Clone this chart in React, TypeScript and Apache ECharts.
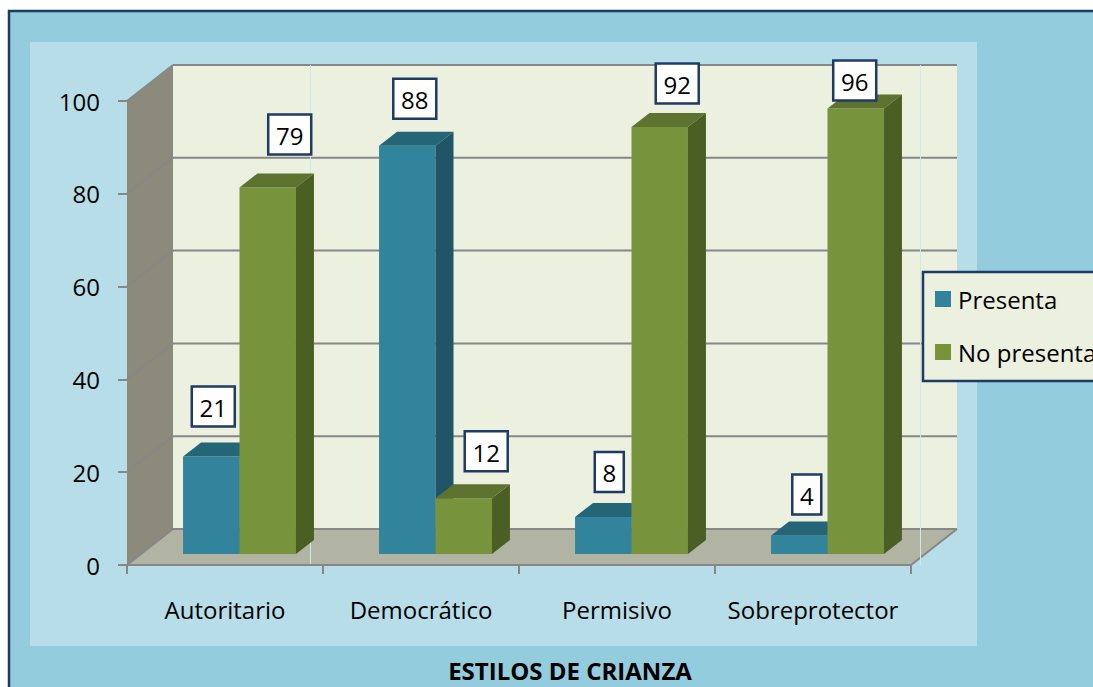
import React, { useEffect, useRef } from 'react';
import * as echarts from 'echarts';

// ---- data ----
const categories = ['Autoritario', 'Democrático', 'Permisivo', 'Sobreprotector'];
const seriesNames = ['Presenta', 'No presenta'];
const presenta = [21, 88, 8, 4];
const noPresenta = [79, 12, 92, 96];
const yTicks = [0, 20, 40, 60, 80, 100];
const axisTitle = 'ESTILOS DE CRIANZA';

// ---- layout / style (not data) ----
const FONT = '"Open Sans", "Noto Sans", sans-serif';
const NAVY = '#1F3A63';
const GRID_GRAY = '#878787';
const DX = 46; // wall depth
const DY = 36;
const SX = 14.5; // bar offset into depth
const SY = 11;
const BDX = 18; // bar depth
const BDY = 14;
const nudgePresenta = [[2, -50], [7.5, -47], [6, -45], [7.5, -41]];
const nudgeNoPresenta = [[22, -53], [22.5, -47], [17.5, -43.5], [-1, -28]];
const blueColors = { front: '#31849B', top: '#246677', side: '#1F5567' };
const greenColors = { front: '#77933C', top: '#5E732F', side: '#4B5E24' };

function wallsRender(params: any, api: any) {
  const cs = params.coordSys;
  const x0 = cs.x;
  const x1 = cs.x + cs.width;
  const yv = (v: number) => api.coord([0, v])[1];
  const y0 = yv(yTicks[0]);
  const yTop = yv(yTicks[yTicks.length - 1]);
  const children: any[] = [
    {
      type: 'polygon',
      shape: { points: [[x0, yTop], [x0 + DX, yTop - DY], [x0 + DX, y0 - DY], [x0, y0]] },
      style: { fill: '#8C8A7A' },
    },
    {
      type: 'rect',
      shape: { x: x0 + DX, y: yTop - DY, width: x1 - x0, height: y0 - yTop },
      style: { fill: '#EBF0DF' },
    },
    {
      type: 'polygon',
      shape: { points: [[x0, y0], [x0 + DX, y0 - DY], [x1 + DX, y0 - DY], [x1, y0]] },
      style: { fill: '#B2B4A3' },
    },
  ];
  yTicks.forEach((t) => {
    const y = yv(t);
    children.push({
      type: 'line',
      shape: { x1: x0 + DX, y1: y - DY, x2: x1 + DX, y2: y - DY },
      style: { stroke: GRID_GRAY, lineWidth: 2 },
    });
    children.push({
      type: 'line',
      shape: { x1: x0, y1: y, x2: x0 + DX, y2: y - DY },
      style: { stroke: GRID_GRAY, lineWidth: 2 },
    });
  });
  children.push({
    type: 'line',
    shape: { x1: x1, y1: y0, x2: x1 + DX, y2: y0 - DY },
    style: { stroke: GRID_GRAY, lineWidth: 2 },
  });
  // faint plot-area border lines
  [310.5, 920.5].forEach((x) => {
    children.push({
      type: 'line',
      shape: { x1: x, y1: yTop - DY, x2: x, y2: y0 },
      style: { stroke: '#CFE8EF', lineWidth: 1 },
    });
  });
  return { type: 'group', children };
}

function makeBarRender(side: number, colors: any, nudges: number[][]) {
  return (params: any, api: any) => {
    const i = params.dataIndex;
    const ci = api.value(0);
    const v = api.value(1);
    const base = api.coord([ci, 0]);
    const top = api.coord([ci, v]);
    const catW = api.size([1, 0])[0];
    const w = catW * 0.288;
    const left = base[0] + SX + (side === 0 ? -w : 0);
    const right = left + w;
    const yb = base[1] - SY;
    const yt = top[1] - SY;
    const text = String(v);
    const bw = text.length > 1 ? 45 : 31;
    const bh = 42;
    const cx = (left + right) / 2 + nudges[i][0];
    const cy = yt + nudges[i][1];
    return {
      type: 'group',
      children: [
        { type: 'rect', shape: { x: left, y: yt, width: w, height: yb - yt }, style: { fill: colors.front } },
        {
          type: 'polygon',
          shape: { points: [[left, yt], [left + BDX, yt - BDY], [right + BDX, yt - BDY], [right, yt]] },
          style: { fill: colors.top },
        },
        {
          type: 'polygon',
          shape: { points: [[right, yt], [right + BDX, yt - BDY], [right + BDX, yb - BDY], [right, yb]] },
          style: { fill: colors.side },
        },
        {
          type: 'rect',
          shape: { x: cx - bw / 2 + 1, y: cy - bh / 2 + 1, width: bw - 2, height: bh - 2 },
          style: { fill: '#FFFFFF', stroke: NAVY, lineWidth: 2.5 },
        },
        {
          type: 'text',
          style: {
            text,
            x: cx,
            y: cy + 1,
            align: 'center',
            verticalAlign: 'middle',
            font: `24px ${FONT}`,
            fill: '#000000',
          },
        },
      ],
    };
  };
}

export default function App() {
  const ref = useRef<HTMLDivElement>(null);
  useEffect(() => {
    const chart = echarts.init(ref.current!, null, { renderer: 'svg' });
    const option: any = {
      animation: false,
      backgroundColor: '#FFFFFF',
      grid: { left: 127, top: 101, width: 784, height: 464, containLabel: false, outerBoundsMode: 'none' },
      xAxis: {
        type: 'category',
        data: categories,
        z: 5,
        axisLine: { show: true, lineStyle: { color: GRID_GRAY, width: 2 } },
        axisTick: { show: true, length: 9, lineStyle: { color: GRID_GRAY, width: 2 } },
        axisLabel: { interval: 0, margin: 32, fontSize: 24, fontFamily: FONT, color: '#000', lineHeight: 24 },
        splitLine: { show: false },
      },
      yAxis: {
        type: 'value',
        min: 0,
        max: 100,
        interval: 20,
        z: 5,
        axisLine: { show: false },
        axisTick: { show: true, length: 9, lineStyle: { color: GRID_GRAY, width: 2 } },
        axisLabel: { margin: 27, fontSize: 24, fontFamily: FONT, color: '#000' },
        splitLine: { show: false },
      },
      legend: {
        orient: 'vertical',
        left: 923,
        top: 272,
        padding: [13, 40, 15, 12],
        itemGap: 25,
        itemWidth: 16,
        itemHeight: 16,
        backgroundColor: '#EBF0DF',
        borderColor: NAVY,
        borderWidth: 2.5,
        borderRadius: 0,
        textStyle: { fontFamily: FONT, fontSize: 24, color: '#000', lineHeight: 28, padding: [0, 0, 0, 2] },
        data: [
          { name: seriesNames[0], icon: 'rect' },
          { name: seriesNames[1], icon: 'rect' },
        ],
      },
      graphic: [
        {
          type: 'rect',
          z: -10,
          shape: { x: 9, y: 11, width: 1300, height: 900 },
          style: { fill: '#93CDDD', stroke: NAVY, lineWidth: 2.5 },
        },
        {
          type: 'rect',
          z: -9,
          shape: { x: 30, y: 42, width: 947, height: 604 },
          style: { fill: '#B7DEE8' },
        },
        {
          type: 'text',
          z: 10,
          x: 570,
          y: 670,
          style: {
            text: axisTitle,
            font: `bold 24px ${FONT}`,
            lineHeight: 24,
            fill: '#000',
            align: 'center',
            verticalAlign: 'middle',
          },
        },
      ],
      series: [
        {
          type: 'custom',
          name: 'walls',
          clip: false,
          silent: true,
          renderItem: wallsRender,
          data: [[0, 0]],
        },
        {
          type: 'custom',
          name: seriesNames[0],
          clip: false,
          itemStyle: { color: blueColors.front },
          renderItem: makeBarRender(0, blueColors, nudgePresenta),
          data: presenta.map((v, i) => [i, v]),
        },
        {
          type: 'custom',
          name: seriesNames[1],
          clip: false,
          itemStyle: { color: greenColors.front },
          renderItem: makeBarRender(1, greenColors, nudgeNoPresenta),
          data: noPresenta.map((v, i) => [i, v]),
        },
      ],
    };
    chart.setOption(option);
    return () => chart.dispose();
  }, []);
  return (
    <div
      ref={ref}
      style={{ position: 'fixed', left: 0, top: 0, width: 1093, height: 687, background: '#fff' }}
    />
  );
}
